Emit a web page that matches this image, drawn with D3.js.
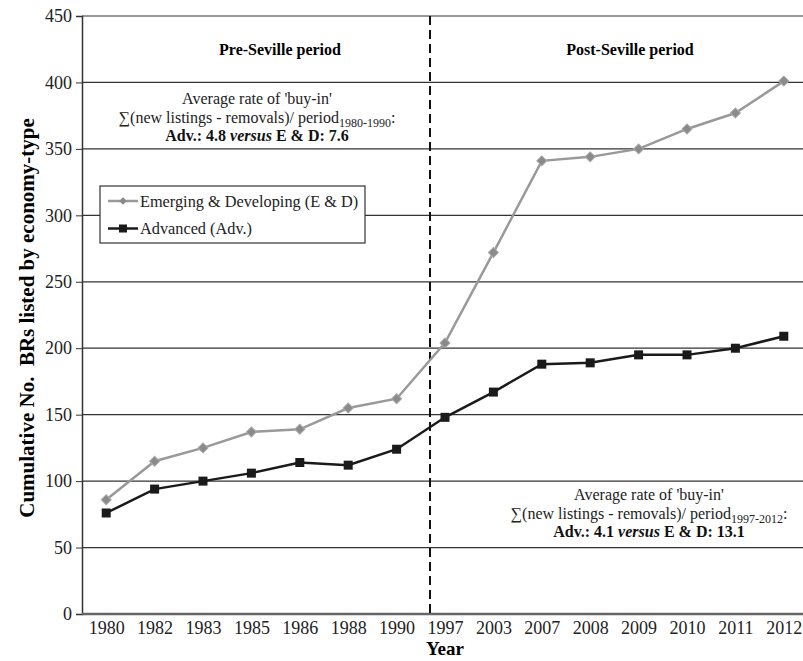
<!DOCTYPE html>
<html>
<head>
<meta charset="utf-8">
<script src="https://cdn.jsdelivr.net/npm/d3@7"></script>
<style>
  body { margin: 0; background: #fff; }
  svg text { font-family: "Liberation Serif", "DejaVu Serif", serif; }
</style>
</head>
<body>
<div id="root"></div>
<script>
const years = ['1980','1982','1983','1985','1986','1988','1990','1997','2003','2007','2008','2009','2010','2011','2012'];
const emerging = [86,115,125,137,139,155,162,204,272,341,344,350,365,377,401];
const advanced = [76,94,100,106,114,112,124,148,167,188,189,195,195,200,209];
const yTicks = [0,50,100,150,200,250,300,350,400,450];

const width = 803, height = 661;
const margin = {top: 16, right: -5, bottom: 47, left: 82};
const serif = '"Liberation Serif", "DejaVu Serif", serif';

const svg = d3.select('#root').append('svg')
  .attr('width', width)
  .attr('height', height)
  .attr('font-family', serif);

const x = d3.scalePoint()
  .domain(years)
  .range([margin.left, width - margin.right])
  .padding(0.5);

const y = d3.scaleLinear()
  .domain([0, 450])
  .range([height - margin.bottom, margin.top]);

// gridlines
svg.append('g')
  .selectAll('line')
  .data(yTicks.filter(d => d > 0))
  .enter().append('line')
  .attr('x1', margin.left)
  .attr('x2', width)
  .attr('y1', d => y(d))
  .attr('y2', d => y(d))
  .attr('stroke', '#333')
  .attr('stroke-width', 1.2);

// y axis
const yAxis = svg.append('g')
  .attr('transform', `translate(${margin.left},0)`)
  .call(d3.axisLeft(y).tickValues(yTicks).tickSize(6).tickPadding(4))
  .attr('font-family', serif);
yAxis.select('.domain').attr('stroke', '#333').attr('stroke-width', 1.5);
yAxis.selectAll('.tick line').attr('stroke', '#333');
yAxis.selectAll('text').style('font-size', '18px').attr('fill', '#222');

// x axis
const xAxis = svg.append('g')
  .attr('transform', `translate(0,${y(0)})`)
  .call(d3.axisBottom(x).tickSize(0).tickPadding(7))
  .attr('font-family', serif);
xAxis.select('.domain').attr('stroke', '#666').attr('stroke-width', 2.5)
  .attr('d', `M${margin.left},0H${width}`);
xAxis.selectAll('text').style('font-size', '18px').attr('fill', '#222');

// dashed divider between 1990 and 1997
const divX = x('1990') + x.step() * 0.69;
svg.append('line')
  .attr('x1', divX).attr('x2', divX)
  .attr('y1', y(450)).attr('y2', y(0))
  .attr('stroke', '#111')
  .attr('stroke-width', 2)
  .attr('stroke-dasharray', '9,5');

// lines
const line = d3.line().x((d, i) => x(years[i])).y(d => y(d));

svg.append('path')
  .datum(emerging)
  .attr('d', line)
  .attr('fill', 'none')
  .attr('stroke', '#999')
  .attr('stroke-width', 2.5);

svg.append('path')
  .datum(advanced)
  .attr('d', line)
  .attr('fill', 'none')
  .attr('stroke', '#1a1a1a')
  .attr('stroke-width', 2.5);

const diamond = d3.symbol().type(d3.symbolSquare).size(50);

svg.append('g')
  .selectAll('path')
  .data(emerging)
  .enter().append('path')
  .attr('d', diamond)
  .attr('transform', (d, i) => `translate(${x(years[i])},${y(d)}) rotate(45)`)
  .attr('fill', '#8a8a8a')
  .attr('stroke', '#a8a8a8')
  .attr('stroke-width', 1);

svg.append('g')
  .selectAll('rect')
  .data(advanced)
  .enter().append('rect')
  .attr('x', (d, i) => x(years[i]) - 4.5)
  .attr('y', d => y(d) - 4.5)
  .attr('width', 9)
  .attr('height', 9)
  .attr('fill', '#1a1a1a');

// period labels
svg.append('text')
  .attr('x', 280).attr('y', 55)
  .attr('text-anchor', 'middle')
  .style('font-size', '16px').style('font-weight', 700)
  .text('Pre-Seville period');

svg.append('text')
  .attr('x', 630).attr('y', 55)
  .attr('text-anchor', 'middle')
  .style('font-size', '16px').style('font-weight', 700)
  .text('Post-Seville period');

// annotations
function note(cx, by, range, adv, ed) {
  const g = svg.append('g').attr('text-anchor', 'middle').style('font-size', '16px').attr('fill', '#222');
  g.append('text').attr('x', cx).attr('y', by).text("Average rate of 'buy-in'");
  const t2 = g.append('text').attr('x', cx).attr('y', by + 18.5);
  t2.append('tspan').text('\u2211(new listings - removals)/ period');
  t2.append('tspan').attr('dy', 4).style('font-size', '12px').text(range);
  t2.append('tspan').attr('dy', -4).text(':');
  const t3 = g.append('text').attr('x', cx).attr('y', by + 37).style('font-weight', 700).attr('fill', '#111');
  t3.append('tspan').text(`Adv.: ${adv} `);
  t3.append('tspan').style('font-style', 'italic').text('versus');
  t3.append('tspan').text(` E & D: ${ed}`);
}
note(257, 104, '1980-1990', '4.8', '7.6');
note(649, 500, '1997-2012', '4.1', '13.1');

// legend
const legend = svg.append('g').attr('transform', 'translate(100,186)');
legend.append('rect')
  .attr('width', 265).attr('height', 57)
  .attr('fill', '#fff').attr('stroke', '#333').attr('stroke-width', 1.2);
const items = [
  {label: 'Emerging & Developing (E & D)', color: '#999', mark: 'diamond'},
  {label: 'Advanced (Adv.)', color: '#1a1a1a', mark: 'square'}
];
items.forEach((it, i) => {
  const row = legend.append('g').attr('transform', `translate(0,${15 + i * 27.5})`);
  row.append('line').attr('x1', 8).attr('x2', 38).attr('stroke', it.color).attr('stroke-width', 2.5);
  if (it.mark === 'diamond') {
    row.append('path').attr('d', d3.symbol().type(d3.symbolSquare).size(30))
      .attr('transform', 'translate(23,0) rotate(45)')
      .attr('fill', '#8a8a8a');
  } else {
    row.append('rect').attr('x', 19).attr('y', -4).attr('width', 8).attr('height', 8).attr('fill', '#1a1a1a');
  }
  row.append('text').attr('x', 40).attr('y', 5.5)
    .style('font-size', '16.3px').attr('fill', '#222')
    .text(it.label);
});

// axis titles
svg.append('text')
  .attr('x', (margin.left + width - margin.right) / 2)
  .attr('y', 655)
  .attr('text-anchor', 'middle')
  .style('font-size', '19px').style('font-weight', 700)
  .text('Year');

svg.append('text')
  .attr('transform', 'translate(34,318) rotate(-90)')
  .attr('text-anchor', 'middle')
  .style('font-size', '21px').style('font-weight', 700)
  .style('white-space', 'pre')
  .text('Cumulative No.  BRs listed by economy-type');
</script>
</body>
</html>
